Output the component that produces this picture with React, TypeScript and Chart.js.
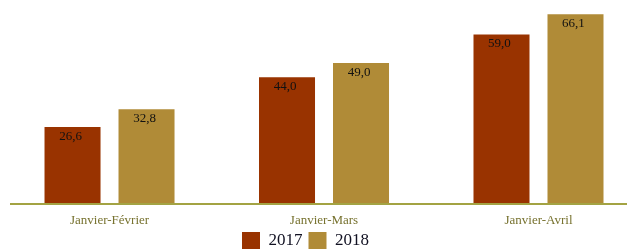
import React, { useEffect, useRef } from "react";
import { Chart, registerables } from "chart.js";

Chart.register(...registerables);

const categories = ["Janvier-Février", "Janvier-Mars", "Janvier-Avril"];
const seriesNames = ["2017", "2018"];
const values2017 = [26.6, 44.0, 59.0];
const values2018 = [32.8, 49.0, 66.1];
const colors = ["#993300", "#b08b37"];

const fmt = (v: number) => v.toFixed(1).replace(".", ",");

const baselinePlugin = {
  id: "baseline",
  afterDatasetsDraw(chart: any) {
    const { ctx, chartArea, scales } = chart;
    const y = scales.y.getPixelForValue(0) + 1;
    ctx.save();
    ctx.strokeStyle = "#a3a343";
    ctx.lineWidth = 2;
    ctx.beginPath();
    ctx.moveTo(chartArea.left, y);
    ctx.lineTo(chart.width, y);
    ctx.stroke();
    ctx.restore();
  },
};

const valueLabelPlugin = {
  id: "valueLabels",
  afterDatasetsDraw(chart: any) {
    const { ctx } = chart;
    ctx.save();
    ctx.font = "13px 'Liberation Serif'";
    ctx.fillStyle = "#111111";
    ctx.textAlign = "center";
    ctx.textBaseline = "top";
    chart.data.datasets.forEach((ds: any, di: number) => {
      const meta = chart.getDatasetMeta(di);
      meta.data.forEach((bar: any, i: number) => {
        const v = ds.data[i].y;
        ctx.fillText(fmt(v), bar.x - 2, bar.y + 3);
      });
    });
    ctx.restore();
  },
};

export default function App() {
  const ref = useRef<HTMLCanvasElement>(null);
  useEffect(() => {
    document.body.style.margin = "0";
    const chart = new Chart(ref.current!, {
      type: "bar",
      data: {
        datasets: [
          {
            label: seriesNames[0],
            data: values2017.map((v, i) => ({ x: i, y: v })),
            backgroundColor: colors[0],
            clip: false,
          },
          {
            label: seriesNames[1],
            data: values2018.map((v, i) => ({ x: i, y: v })),
            backgroundColor: colors[1],
            clip: false,
          },
        ],
      },
      options: {
        animation: false,
        responsive: false,
        maintainAspectRatio: false,
        categoryPercentage: 0.69,
        barPercentage: 0.757,
        layout: { padding: { left: 10, right: 26, top: 3, bottom: 0 } },
        plugins: {
          tooltip: { enabled: false },
          legend: {
            display: true,
            position: "bottom",
            labels: {
              boxWidth: 18,
              boxHeight: 17,
              padding: 6,
              color: "#111122",
              font: { family: "'Liberation Serif'", size: 17 },
            },
          },
        },
        scales: {
          x: {
            type: "linear",
            offset: false,
            min: -0.464,
            max: 2.2914,
            grid: { display: false },
            border: { display: false },
            afterFit: (scale: any) => {
              scale.height = 23;
            },
            ticks: {
              stepSize: 1,
              includeBounds: false,
              autoSkip: false,
              maxRotation: 0,
              padding: 2,
              color: "#77722f",
              font: { family: "'Liberation Serif'", size: 13 },
              callback: (v: any) =>
                Number.isInteger(v) && categories[v] !== undefined ? categories[v] : "",
            },
          },
          y: {
            display: false,
            min: 0,
            max: 70,
          },
        },
      },
      plugins: [baselinePlugin, valueLabelPlugin],
    });
    return () => chart.destroy();
  }, []);
  return (
    <div style={{ width: 627, height: 249, overflow: "hidden" }}>
      <canvas ref={ref} width={627} height={259} style={{ display: "block" }} />
    </div>
  );
}
